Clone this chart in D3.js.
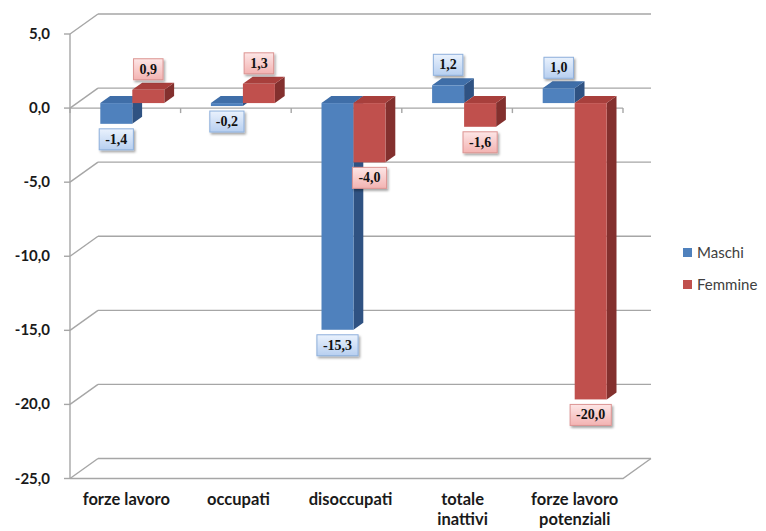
<!doctype html>
<html lang="it">
<head>
  <meta charset="utf-8">
  <title>Variazioni maschi / femmine</title>
  <script src="https://d3js.org/d3.v7.min.js"></script>
  <style>
    body { margin: 0; background: #fff; }
    text { font-family: Lato, "Liberation Sans", sans-serif; }
    text.dlabel { font-family: "Liberation Serif", "DejaVu Serif", serif; }
  </style>
</head>
<body>
<div id="chart"></div>
<script>
  // data
  var categories = ["forze lavoro", "occupati", "disoccupati", "totale inattivi", "forze lavoro potenziali"];
  var series = ["Maschi", "Femmine"];
  var maschi = [-1.4, -0.2, -15.3, 1.2, 1.0];
  var femmine = [0.9, 1.3, -4.0, -1.6, -20.0];
  var y_ticks = [5, 0, -5, -10, -15, -20, -25];

  var width = 766, height = 531;
  var depth_x = 28, depth_y = -20;   // wall depth offset
  var z_front = 0.25, z_back = 0.6;   // bars sit in the middle of the depth
  var pair_width = 64;

  var colors = {
    Maschi: { front: "#4f81bd", top: "#3f6ea8", side: "#2f5282", box1: "#eaf2fd", box2: "#b7cff0", stroke: "#8eb0dc" },
    Femmine: { front: "#c0504d", top: "#a83f3c", side: "#83302e", box1: "#fde6e6", box2: "#f3b3b2", stroke: "#dc9492" }
  };

  var y = d3.scaleLinear().domain([-25, 5]).range([478.5, 34]);
  var x = d3.scaleBand().domain(categories).range([70, 623]);
  var x_series = d3.scaleBand().domain(series).range([0, pair_width]);

  function proj(px, v, z) {
    return [px + z * depth_x, y(v) + z * depth_y];
  }
  function fmt(v) {
    return d3.format(".1f")(v).replace(".", ",").replace("−", "-");
  }

  var svg = d3.select("#chart").append("svg")
    .attr("width", width)
    .attr("height", height)
    .style("background", "#fff");

  var defs = svg.append("defs");
  var shadow = defs.append("filter").attr("id", "shadow")
    .attr("x", "-30%").attr("y", "-30%").attr("width", "160%").attr("height", "170%");
  shadow.append("feDropShadow")
    .attr("dx", 1.5).attr("dy", 2).attr("stdDeviation", 1.2)
    .attr("flood-color", "#000").attr("flood-opacity", 0.35);
  series.forEach(function(s) {
    var g = defs.append("linearGradient").attr("id", "box_" + s)
      .attr("x1", 0).attr("y1", 0).attr("x2", 0).attr("y2", 1);
    g.append("stop").attr("offset", "0%").attr("stop-color", colors[s].box1);
    g.append("stop").attr("offset", "100%").attr("stop-color", colors[s].box2);
  });

  // walls and gridlines
  var grid = svg.append("g")
    .attr("stroke", "#a6a6a6")
    .attr("stroke-width", 1.4)
    .attr("fill", "none");
  var x_left = x.range()[0], x_right = x.range()[1];

  y_ticks.forEach(function(v) {
    var a = proj(x_left, v, 0), b = proj(x_left, v, 1), c = proj(x_right, v, 1);
    grid.append("line").attr("x1", a[0]).attr("y1", a[1]).attr("x2", b[0]).attr("y2", b[1]);
    grid.append("line").attr("x1", b[0]).attr("y1", b[1]).attr("x2", c[0]).attr("y2", c[1]);
    grid.append("line").attr("x1", a[0] - 6).attr("y1", a[1]).attr("x2", a[0]).attr("y2", a[1]);
  });

  // floor front edge and right edge
  var f0 = proj(x_left, -25, 0), f1 = proj(x_right, -25, 0), f2 = proj(x_right, -25, 1);
  grid.append("polyline").attr("points", [f0, f1, f2].map(String).join(" "));

  // front value axis
  grid.append("line")
    .attr("x1", x_left).attr("y1", y(5))
    .attr("x2", x_left).attr("y2", y(-25));

  // front category axis at zero
  grid.append("line")
    .attr("x1", x_left).attr("y1", y(0))
    .attr("x2", x_right).attr("y2", y(0));
  categories.concat([null]).forEach(function(c, i) {
    var px = i < categories.length ? x(c) : x_right;
    grid.append("line")
      .attr("x1", px).attr("y1", y(0))
      .attr("x2", px).attr("y2", y(0) + 5);
  });

  // value tick labels
  svg.append("g").selectAll("text")
    .data(y_ticks)
    .enter().append("text")
      .attr("x", 50)
      .attr("y", (d) => y(d) + 5)
      .attr("text-anchor", "end")
      .attr("font-size", 15)
      .attr("font-weight", "bold")
      .attr("fill", "#1a1a1a")
      .text((d) => fmt(d));

  // bars
  var bars = [];
  categories.forEach(function(c, i) {
    bars.push({ cat: c, s: "Maschi", v: maschi[i] });
    bars.push({ cat: c, s: "Femmine", v: femmine[i] });
  });

  var bar_g = svg.append("g");
  bars.forEach(function(d) {
    var x0 = x(d.cat) + (x.bandwidth() - pair_width) / 2 + x_series(d.s);
    var x1 = x0 + x_series.bandwidth();
    var top = Math.max(d.v, 0), bot = Math.min(d.v, 0);
    var col = colors[d.s];
    var g = bar_g.append("g");

    var side = [proj(x1, top, z_front), proj(x1, top, z_back), proj(x1, bot, z_back), proj(x1, bot, z_front)];
    var topf = [proj(x0, top, z_front), proj(x1, top, z_front), proj(x1, top, z_back), proj(x0, top, z_back)];
    var a = proj(x0, top, z_front), b = proj(x1, bot, z_front);

    g.append("polygon").attr("points", side.map(String).join(" ")).attr("fill", col.side);
    g.append("polygon").attr("points", topf.map(String).join(" ")).attr("fill", col.top);
    g.append("rect")
      .attr("x", a[0]).attr("y", a[1])
      .attr("width", b[0] - a[0]).attr("height", b[1] - a[1])
      .attr("fill", col.front);

    d.cx = (a[0] + b[0]) / 2;
    d.top_y = proj(x0, top, z_back)[1];
    d.bot_y = b[1];
  });

  // data labels
  var label_g = svg.append("g");
  bars.forEach(function(d) {
    var g = label_g.append("g");
    var txt = g.append("text")
      .attr("class", "dlabel")
      .attr("text-anchor", "middle")
      .attr("font-size", 14)
      .attr("font-weight", "bold")
      .attr("fill", "#111")
      .text(fmt(d.v));
    var w = txt.node().getComputedTextLength() + 12;
    var h = 21;
    var by = d.v >= 0 ? d.top_y - 3 - h : d.bot_y + 5;
    g.insert("rect", "text")
      .attr("x", d.cx - w / 2).attr("y", by)
      .attr("width", w).attr("height", h)
      .attr("fill", "url(#box_" + d.s + ")")
      .attr("stroke", colors[d.s].stroke)
      .attr("stroke-width", 1)
      .attr("filter", "url(#shadow)");
    txt.attr("x", d.cx).attr("y", by + 15);
  });

  // category labels, wrapped like the original
  var cat_g = svg.append("g");
  categories.forEach(function(c, i) {
    var words = c.split(" ");
    var lines = [];
    if (words.length > 2) lines = [words.slice(0, 2).join(" "), words.slice(2).join(" ")];
    else if (c.length > 12) lines = words;
    else lines = [c];
    var t = cat_g.append("text")
      .attr("text-anchor", "middle")
      .attr("font-size", 16.5)
      .attr("font-weight", "bold")
      .attr("fill", "#1a1a1a");
    lines.forEach(function(l, j) {
      t.append("tspan")
        .attr("x", x(c) + x.bandwidth() / 2 + 1 + i * 1.5)
        .attr("y", 505 + j * 20)
        .text(l);
    });
  });

  // legend
  var legend = svg.append("g").attr("transform", "translate(683,248)");
  series.forEach(function(s, i) {
    var g = legend.append("g").attr("transform", "translate(0," + (i * 32) + ")");
    g.append("rect").attr("width", 9).attr("height", 9).attr("fill", colors[s].front);
    g.append("text")
      .attr("x", 14).attr("y", 9.5)
      .attr("font-size", 15)
      .attr("fill", "#404040")
      .text(s);
  });
</script>
</body>
</html>
